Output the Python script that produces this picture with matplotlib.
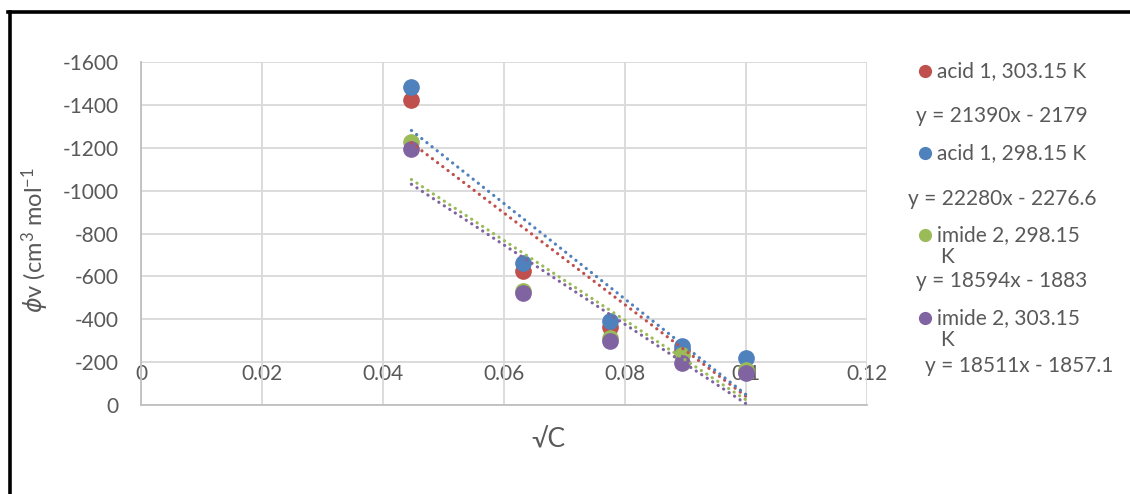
import matplotlib
matplotlib.use("Agg")
import matplotlib.pyplot as plt
from matplotlib.lines import Line2D
import numpy as np

plt.rcParams['font.family'] = ['Lato', 'DejaVu Sans']
plt.rcParams['mathtext.default'] = 'regular'

# ---- data ----
sqrt_c = [0.0447, 0.0632, 0.0775, 0.0894, 0.1000]
series_names = ["acid 1, 303.15 K", "acid 1, 298.15 K", "imide 2, 298.15 K", "imide 2, 303.15 K"]
acid1_303 = [-1423, -625, -365, -257, -155]
acid1_298 = [-1483, -662, -390, -275, -219]
imide2_298 = [-1225, -530, -312, -232, -165]
imide2_303 = [-1194, -522, -300, -196, -149]
slopes = [21390, 22280, 18594, 18511]
intercepts = [-2179, -2276.6, -1883, -1857.1]
equations = ["y = 21390x - 2179", "y = 22280x - 2276.6", "y = 18594x - 1883", "y = 18511x - 1857.1"]
x_ticks = [0, 0.02, 0.04, 0.06, 0.08, 0.1, 0.12]
x_ticklabels = ["0", "0.02", "0.04", "0.06", "0.08", "0.1", "0.12"]
y_ticks = [0, -200, -400, -600, -800, -1000, -1200, -1400, -1600]
y_ticklabels = ["0", "-200", "-400", "-600", "-800", "-1000", "-1200", "-1400", "-1600"]

colors = ["#C0504D", "#4F81BD", "#9BBB59", "#8064A2"]
values = [acid1_303, acid1_298, imide2_298, imide2_303]
txt = "#595959"
grid = "#d9d9d9"
FS = 15

W, H = 1130, 494
fig = plt.figure(figsize=(W / 100, H / 100), dpi=100)
ax = fig.add_axes([141 / W, 1 - 405 / H, 726 / W, 343 / H])

x_arr = np.array(sqrt_c)
for vals, c in zip(values, colors):
    ax.plot(x_arr, vals, 'o', color=c, markersize=11, zorder=3, clip_on=False)
xfit = np.linspace(min(sqrt_c), max(sqrt_c), 100)
for m, b, c in zip(slopes, intercepts, colors):
    ax.plot(xfit, m * xfit + b, color=c, lw=2.3, linestyle=(0, (0.05, 2.0)),
            dash_capstyle='round', zorder=4)

ax.set_xlim(0, 0.12)
ax.set_ylim(0, -1600)
ax.set_yticks(y_ticks)
ax.set_yticklabels(y_ticklabels, fontsize=FS, color=txt)
ax.set_xticks(x_ticks)
ax.tick_params(axis='x', labelbottom=False, length=0)
ax.tick_params(axis='y', length=0, pad=16)
ax.grid(True, color=grid, lw=1.3)
ax.set_axisbelow(True)
for s in ['top', 'right']:
    ax.spines[s].set_visible(False)
for s in ['left', 'bottom']:
    ax.spines[s].set_color('#bfbfbf')
    ax.spines[s].set_linewidth(1.3)

sec = ax.secondary_xaxis(200 / 1600)
sec.set_xticks(x_ticks)
sec.set_xticklabels(x_ticklabels, fontsize=FS, color=txt)
sec.tick_params(length=0, pad=1)
sec.spines['bottom'].set_visible(False)

fig.text(35 / W, 1 - 240 / H, r'$\it{\phi}$v (cm$^3$ mol$^{-1}$', rotation=90,
         ha='center', va='center', fontsize=17, color=txt)
fig.text(548 / W, 1 - 440 / H, '√C', ha='center', va='center', fontsize=19, color=txt)

# legend (manual)
leg_y = [71, 153, 235, 318]
leg_labels = ["acid 1, 303.15 K", "acid 1, 298.15 K", "imide 2, 298.15", "imide 2, 303.15"]
for yy, lab, c, full in zip(leg_y, leg_labels, colors, series_names):
    fig.add_artist(Line2D([925 / W], [1 - yy / H], marker='o', color=c,
                          markersize=8.5, transform=fig.transFigure, linestyle='none'))
    fig.text(937 / W, 1 - yy / H, lab, ha='left', va='center', fontsize=FS, color=txt)
    if not lab.endswith("K"):
        fig.text(940 / W, 1 - (yy + 22) / H, "K", ha='left', va='center', fontsize=FS, color=txt)

eq_pos = [(1002, 116), (1002, 199), (1002, 281), (1019, 366)]
for (ex, ey), e in zip(eq_pos, equations):
    fig.text(ex / W, 1 - ey / H, e, ha='center', va='center', fontsize=FS, color=txt)

# outer border lines (left and top)
fig.add_artist(Line2D([9.5 / W, 9.5 / W], [0, 1 - 12 / H], color='black', lw=2.6,
                      transform=fig.transFigure))
fig.add_artist(Line2D([8 / W, 1], [1 - 12 / H, 1 - 12 / H], color='black', lw=2.6,
                      transform=fig.transFigure))

fig.savefig("out.png", dpi=100, facecolor='white')
